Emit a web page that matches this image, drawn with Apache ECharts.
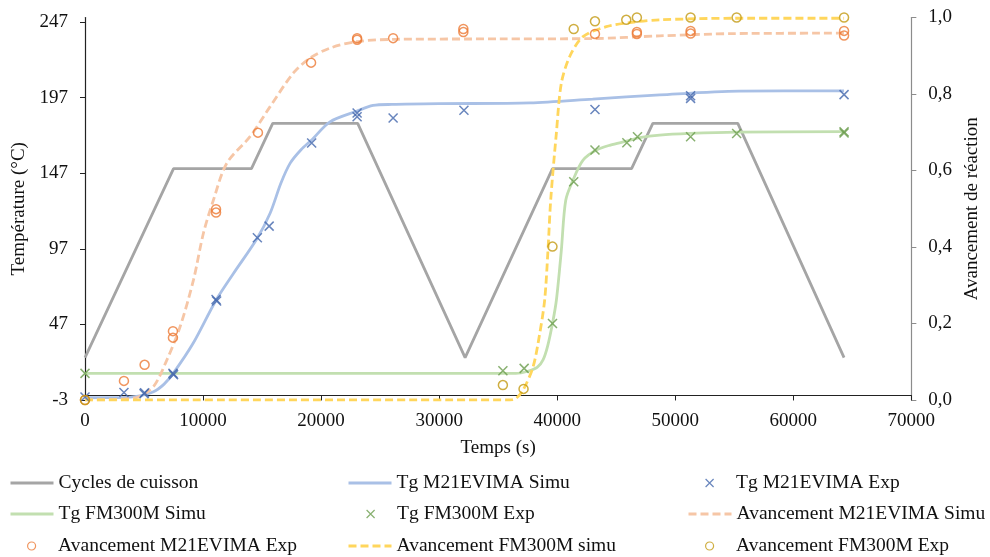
<!DOCTYPE html>
<html>
<head>
<meta charset="utf-8">
<script src="https://cdn.jsdelivr.net/npm/echarts@6/dist/echarts.min.js"></script>
<style>
html,body{margin:0;padding:0;background:#fff;}
#c{width:990px;height:557px;}
</style>
</head>
<body>
<div id="c"></div>
<script>
// ---- Data ----
const xTicks = [0, 10000, 20000, 30000, 40000, 50000, 60000, 70000];
const yLeftTicks = [-3, 47, 97, 147, 197, 247];
const yRightTicks = [0, 0.2, 0.4, 0.6, 0.8, 1.0];

// Cycles de cuisson
const cycleTime = [0, 7500, 14100, 15900, 23100, 32200, 39600, 46300, 48100, 55300, 64300];
const cycleTemp = [25, 150, 150, 180, 180, 25, 150, 150, 180, 180, 25];

// Tg M21EVIMA Simu
const tgM21SimuTime = [0, 3000, 4500, 5800, 6700, 7470, 9160, 11100, 12560, 14550, 15680, 16600, 17370, 18300, 19200, 20750, 23000, 24400, 26000, 30000, 37700, 43000, 48700, 55400, 64300];
const tgM21SimuVal  = [-1.5, -1.4, -0.5, 2.4, 7.5, 14.6, 34.5, 63, 80.5, 103.5, 120.5, 140.5, 153.5, 162.5, 169, 181, 188, 191.8, 192.5, 193, 193.5, 196, 198.8, 201.3, 201.5];

// Tg M21EVIMA Exp
const tgM21ExpTime = [0, 3300, 5000, 5050, 7450, 7500, 11100, 11150, 14600, 15600, 19200, 23050, 23050, 26100, 32100, 43200, 51300, 51300, 64300];
const tgM21ExpVal  = [-1, 2, 1.2, 1.8, 14.6, 13.8, 63.5, 62.5, 104.3, 112, 167, 186.8, 184.3, 183.5, 188.6, 189.2, 198.2, 196.5, 199];

// Tg FM300M Simu
const tgFMSimuTime = [0, 36500, 37500, 38300, 38800, 39200, 39600, 39930, 40350, 40720, 41340, 42190, 43320, 44500, 45860, 47000, 48680, 51220, 55160, 64300];
const tgFMSimuVal  = [14.6, 14.6, 16, 18.5, 23.5, 33, 47.6, 63, 96, 129, 142.5, 155.6, 162.3, 165.6, 168.2, 170.5, 172.2, 173.3, 174.2, 174.5];

// Tg FM300M Exp
const tgFMExpTime = [0, 35400, 37200, 39600, 41400, 43200, 45900, 46800, 51300, 55200, 64300, 64300];
const tgFMExpVal  = [14.6, 16.3, 17.9, 47.6, 141.3, 162.3, 167.1, 171.1, 171.1, 173.3, 173.6, 174.4];

// Avancement M21EVIMA Simu
const avM21SimuTime = [0, 3000, 4500, 5800, 6940, 8060, 9190, 10030, 10880, 12010, 13990, 15680, 17650, 19060, 20750, 23010, 26400, 35000, 43000, 48680, 55000, 64300];
const avM21SimuVal  = [0, 0.002, 0.008, 0.035, 0.105, 0.192, 0.314, 0.436, 0.523, 0.619, 0.689, 0.767, 0.855, 0.894, 0.92, 0.937, 0.943, 0.944, 0.945, 0.952, 0.958, 0.959];

// Avancement M21EVIMA Exp
const avM21ExpTime = [0, 3300, 5050, 7450, 7450, 11100, 11100, 14650, 19150, 23050, 23050, 26100, 32050, 32050, 43200, 46750, 46750, 51300, 51300, 64300, 64300];
const avM21ExpVal  = [0, 0.05, 0.092, 0.18, 0.163, 0.499, 0.49, 0.699, 0.882, 0.946, 0.942, 0.946, 0.97, 0.962, 0.957, 0.962, 0.957, 0.965, 0.958, 0.965, 0.953];

// Avancement FM300M simu
const avFMSimuTime = [0, 35990, 36500, 37110, 37960, 38520, 38940, 39220, 39450, 39930, 40350, 41060, 42190, 44160, 46500, 48680, 55000, 64300];
const avFMSimuVal  = [0, 0, 0.004, 0.026, 0.087, 0.174, 0.262, 0.392, 0.523, 0.698, 0.828, 0.898, 0.95, 0.976, 0.988, 0.994, 0.998, 0.998];

// Avancement FM300M Exp
const avFMExpTime = [0, 35400, 37150, 39600, 41400, 43200, 45850, 46750, 51300, 55200, 64300];
const avFMExpVal  = [0, 0.039, 0.029, 0.401, 0.97, 0.99, 0.994, 1.0, 1.0, 1.0, 1.0];

// ---- Helpers ----
const zip = (xs, ys) => xs.map((x, i) => [x, ys[i]]);
const FONT = 'Liberation Serif';
const XPATH = 'path://M0,0L10,10M10,0L0,10';

const C = {
  cycle: '#a5a5a5',
  m21Simu: '#a9c0e6',
  m21Exp: '#4267ad',
  fmSimu: '#c2dfb0',
  fmExp: '#6a9c4c',
  avM21Simu: '#f6c6a6',
  avM21Exp: '#ec7b36',
  avFMSimu: '#ffd65c',
  avFMExp: '#c39a12'
};

function lineSeries(name, data, color, yIdx, dashed) {
  return {
    name, type: 'line', data, yAxisIndex: yIdx, symbol: 'none', showSymbol: false,
    smooth: name === 'Cycles de cuisson' ? false : 0.3,
    lineStyle: { color, width: 2.8, type: dashed ? [8, 4] : 'solid' },
    itemStyle: { color }, z: 2
  };
}
function scatterSeries(name, data, color, yIdx, isX) {
  return {
    name, type: 'scatter', data, yAxisIndex: yIdx,
    symbol: isX ? XPATH : 'circle', symbolSize: 9, symbolKeepAspect: true,
    itemStyle: { color: 'rgba(0,0,0,0)', borderColor: color, borderWidth: 1.5 }, z: 3
  };
}

const series = [
  lineSeries('Cycles de cuisson', zip(cycleTime, cycleTemp), C.cycle, 0, false),
  lineSeries('Tg M21EVIMA Simu', zip(tgM21SimuTime, tgM21SimuVal), C.m21Simu, 0, false),
  scatterSeries('Tg M21EVIMA Exp', zip(tgM21ExpTime, tgM21ExpVal), C.m21Exp, 0, true),
  lineSeries('Tg FM300M Simu', zip(tgFMSimuTime, tgFMSimuVal), C.fmSimu, 0, false),
  scatterSeries('Tg FM300M Exp', zip(tgFMExpTime, tgFMExpVal), C.fmExp, 0, true),
  lineSeries('Avancement M21EVIMA Simu', zip(avM21SimuTime, avM21SimuVal), C.avM21Simu, 1, true),
  scatterSeries('Avancement M21EVIMA Exp', zip(avM21ExpTime, avM21ExpVal), C.avM21Exp, 1, false),
  lineSeries('Avancement FM300M simu', zip(avFMSimuTime, avFMSimuVal), C.avFMSimu, 1, true),
  scatterSeries('Avancement FM300M Exp', zip(avFMExpTime, avFMExpVal), C.avFMExp, 1, false)
];

// Legend layout (3 columns x 3 rows)
const legendColsLine = [9, 347, 687];
const legendColsMark = [27, 366, 705];
const legendRows = [473, 504, 536];
const legends = series.map((s, i) => {
  const isMark = s.type === 'scatter';
  const leg = {
    show: true,
    data: [s.name],
    left: (isMark ? legendColsMark : legendColsLine)[i % 3],
    top: legendRows[Math.floor(i / 3)],
    padding: 0,
    itemWidth: 43,
    itemHeight: 8,
    selectedMode: false,
    textStyle: { fontFamily: FONT, fontSize: 19.5, color: '#111' },
    itemStyle: isMark ? { borderWidth: 1.2 } : { color: 'rgba(0,0,0,0)', borderColor: 'rgba(0,0,0,0)', borderWidth: 0, opacity: 0 }
  };
  if (!isMark) leg.lineStyle = { width: 3 };
  return leg;
});

const chart = echarts.init(document.getElementById('c'), null, { renderer: 'canvas' });
chart.setOption({
  animation: false,
  backgroundColor: '#fff',
  textStyle: { fontFamily: FONT },
  legend: legends,
  grid: { left: 85, right: 77, top: 17.5, bottom: 157, containLabel: false },
  xAxis: {
    type: 'value', min: 0, max: 70000, interval: 10000,
    name: 'Temps (s)', nameLocation: 'middle', nameGap: 39,
    nameTextStyle: { fontFamily: FONT, fontSize: 19, color: '#111' },
    axisLine: { onZero: true, lineStyle: { color: '#222', width: 1.2 } },
    axisTick: { show: true, inside: false, length: 5, lineStyle: { color: '#222' } },
    axisLabel: { fontFamily: FONT, fontSize: 19, color: '#111', margin: 12, formatter: v => String(v) },
    splitLine: { show: false }
  },
  yAxis: [
    {
      type: 'value', min: -3, max: 250, position: 'left',
      name: 'Température (°C)', nameLocation: 'middle', nameGap: 46,
      nameTextStyle: { fontFamily: FONT, fontSize: 19, color: '#111' },
      axisLine: { show: true, lineStyle: { color: '#222', width: 1.2 } },
      axisTick: { show: true, length: 5, customValues: yLeftTicks, lineStyle: { color: '#222' } },
      axisLabel: { fontFamily: FONT, fontSize: 19, color: '#111', margin: 17, customValues: yLeftTicks },
      splitLine: { show: false }
    },
    {
      type: 'value', min: 0, max: 1, interval: 0.2, position: 'right',
      name: 'Avancement de réaction', nameLocation: 'middle', nameGap: 51,
      nameTextStyle: { fontFamily: FONT, fontSize: 19, color: '#111' },
      axisLine: { show: true, onZero: false, lineStyle: { color: '#8c8c8c', width: 1.2 } },
      axisTick: { show: true, length: 5, lineStyle: { color: '#8c8c8c' } },
      axisLabel: { fontFamily: FONT, fontSize: 19, color: '#111', margin: 17, formatter: v => v.toFixed(1).replace('.', ',') },
      splitLine: { show: false }
    }
  ],
  series
});
</script>
</body>
</html>
